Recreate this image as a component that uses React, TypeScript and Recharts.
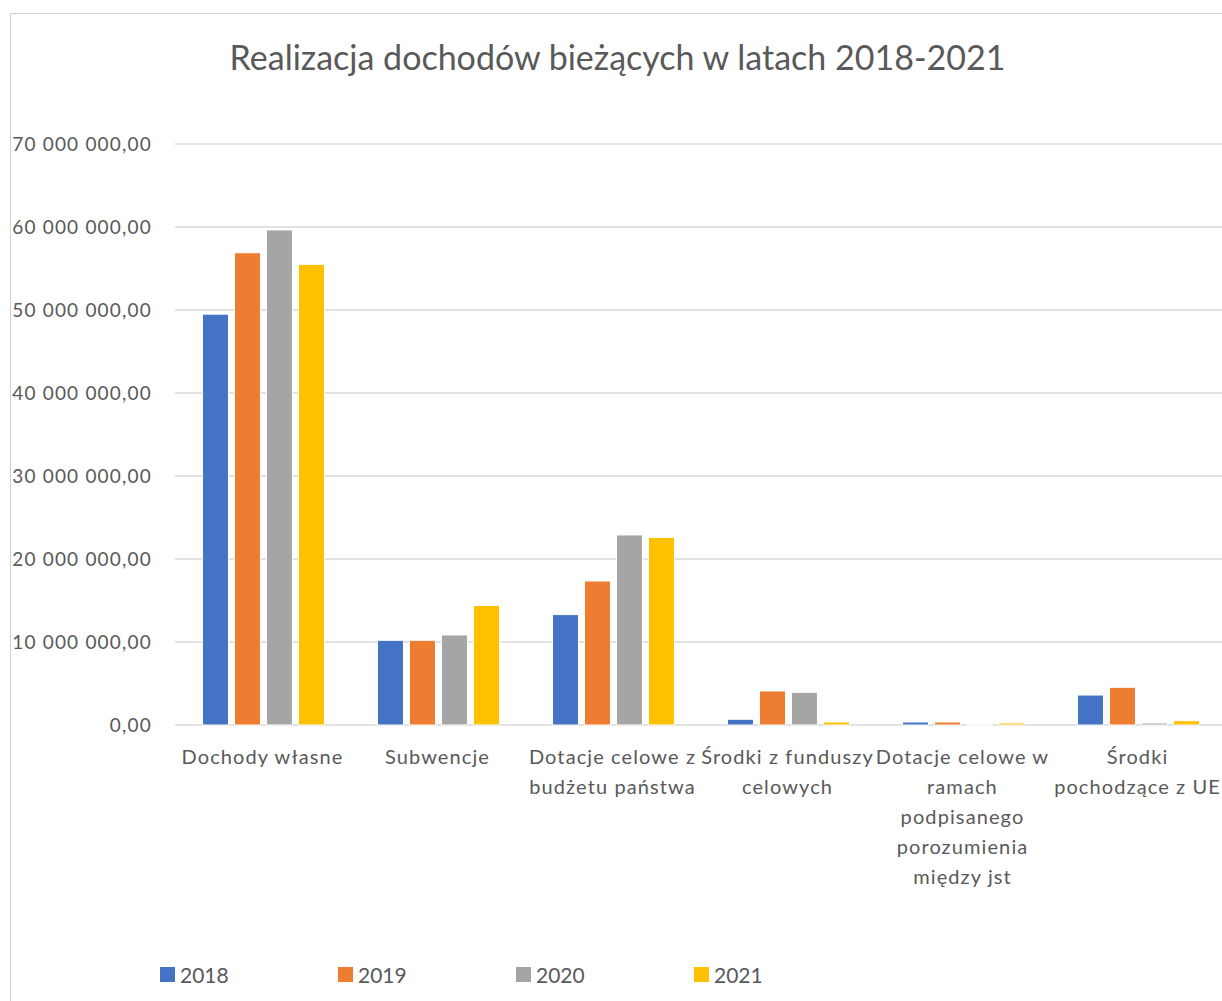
import React from "react";
import { BarChart, Bar, XAxis, YAxis, CartesianGrid } from "recharts";

const categories = [
  "Dochody własne",
  "Subwencje",
  "Dotacje celowe z\nbudżetu państwa",
  "Środki z funduszy\ncelowych",
  "Dotacje celowe w\nramach\npodpisanego\nporozumienia\nmiędzy jst",
  "Środki\npochodzące z UE",
];

const years = ["2018", "2019", "2020", "2021"];
const colors = ["#4472C4", "#ED7D31", "#A5A5A5", "#FFC000"];

const v2018 = [49500000, 10200000, 13300000, 690000, 360000, 3610000];
const v2019 = [56900000, 10200000, 17350000, 4100000, 360000, 4540000];
const v2020 = [59650000, 10850000, 22900000, 3940000, 30000, 240000];
const v2021 = [55500000, 14400000, 22600000, 360000, 240000, 520000];

const yTicks = [0, 10000000, 20000000, 30000000, 40000000, 50000000, 60000000, 70000000];

const series = [v2018, v2019, v2020, v2021];
const data = categories.map((c, i) => {
  const row: Record<string, any> = { name: c };
  years.forEach((y, k) => (row[y] = series[k][i]));
  return row;
});

const TEXT = "#595959";
const FONT = "Lato, 'Open Sans', sans-serif";

const fmt = (v: number) => {
  const s = Math.round(v).toString();
  const parts: string[] = [];
  for (let i = s.length; i > 0; i -= 3) parts.unshift(s.slice(Math.max(0, i - 3), i));
  return parts.join(" ") + ",00";
};

const CatTick = (props: any) => {
  const { x, y, payload } = props;
  const lines = String(payload.value).split("\n");
  return (
    <g>
      {lines.map((l, i) => (
        <text
          key={i}
          x={x}
          y={y + 39 + i * 30}
          textAnchor="middle"
          fill={TEXT}
          fontSize={20}
          fontFamily={FONT}
          letterSpacing={1.1}
        >
          {l}
        </text>
      ))}
    </g>
  );
};

export default function App() {
  return (
    <div
      style={{
        position: "absolute",
        left: 0,
        top: 0,
        width: 1222,
        height: 1001,
        overflow: "hidden",
        background: "#fff",
        fontFamily: FONT,
      }}
    >
      <div
        style={{
          position: "absolute",
          left: 10,
          top: 13,
          width: 1240,
          height: 1000,
          borderTop: "1.5px solid #d0d0d0",
          borderLeft: "1.5px solid #d0d0d0",
        }}
      />
      <div
        style={{
          position: "absolute",
          left: 0,
          top: 36,
          width: 1235,
          textAlign: "center",
          fontSize: 34,
          color: TEXT,
          fontFamily: FONT,
        }}
      >
        Realizacja dochodów bieżących w latach 2018-2021
      </div>
      <div style={{ position: "absolute", left: 0, top: 0 }}>
        <BarChart
          width={1240}
          height={1001}
          data={data}
          margin={{ top: 144, right: 15, left: 0, bottom: 246 }}
          barCategoryGap="15.7%"
          barGap={6}
        >
          <CartesianGrid vertical={false} stroke="#d9d9d9" strokeWidth={1.5} />
          <XAxis
            dataKey="name"
            axisLine={false}
            tickLine={false}
            tickSize={0}
            tickMargin={0}
            interval={0}
            tick={<CatTick />}
          />
          <YAxis
            width={175}
            domain={[0, 70000000]}
            ticks={yTicks}
            axisLine={false}
            tickLine={false}
            tickSize={0}
            tickMargin={23}
            tickFormatter={fmt}
            tick={{ fill: TEXT, fontSize: 19, fontFamily: FONT, letterSpacing: 1.2 }}
          />
          {years.map((y, k) => (
            <Bar
              key={y}
              dataKey={y}
              fill={colors[k]}
              stroke="#ffffff"
              strokeWidth={1}
              isAnimationActive={false}
            />
          ))}
        </BarChart>
      </div>
      {years.map((y, k) => (
        <div
          key={y}
          style={{
            position: "absolute",
            left: 160 + k * 178,
            top: 962,
            display: "flex",
            alignItems: "center",
            fontSize: 21,
            color: TEXT,
            fontFamily: FONT,
          }}
        >
          <span
            style={{
              display: "inline-block",
              width: 15,
              height: 15,
              background: colors[k],
              marginRight: 5,
            }}
          />
          {y}
        </div>
      ))}
    </div>
  );
}
